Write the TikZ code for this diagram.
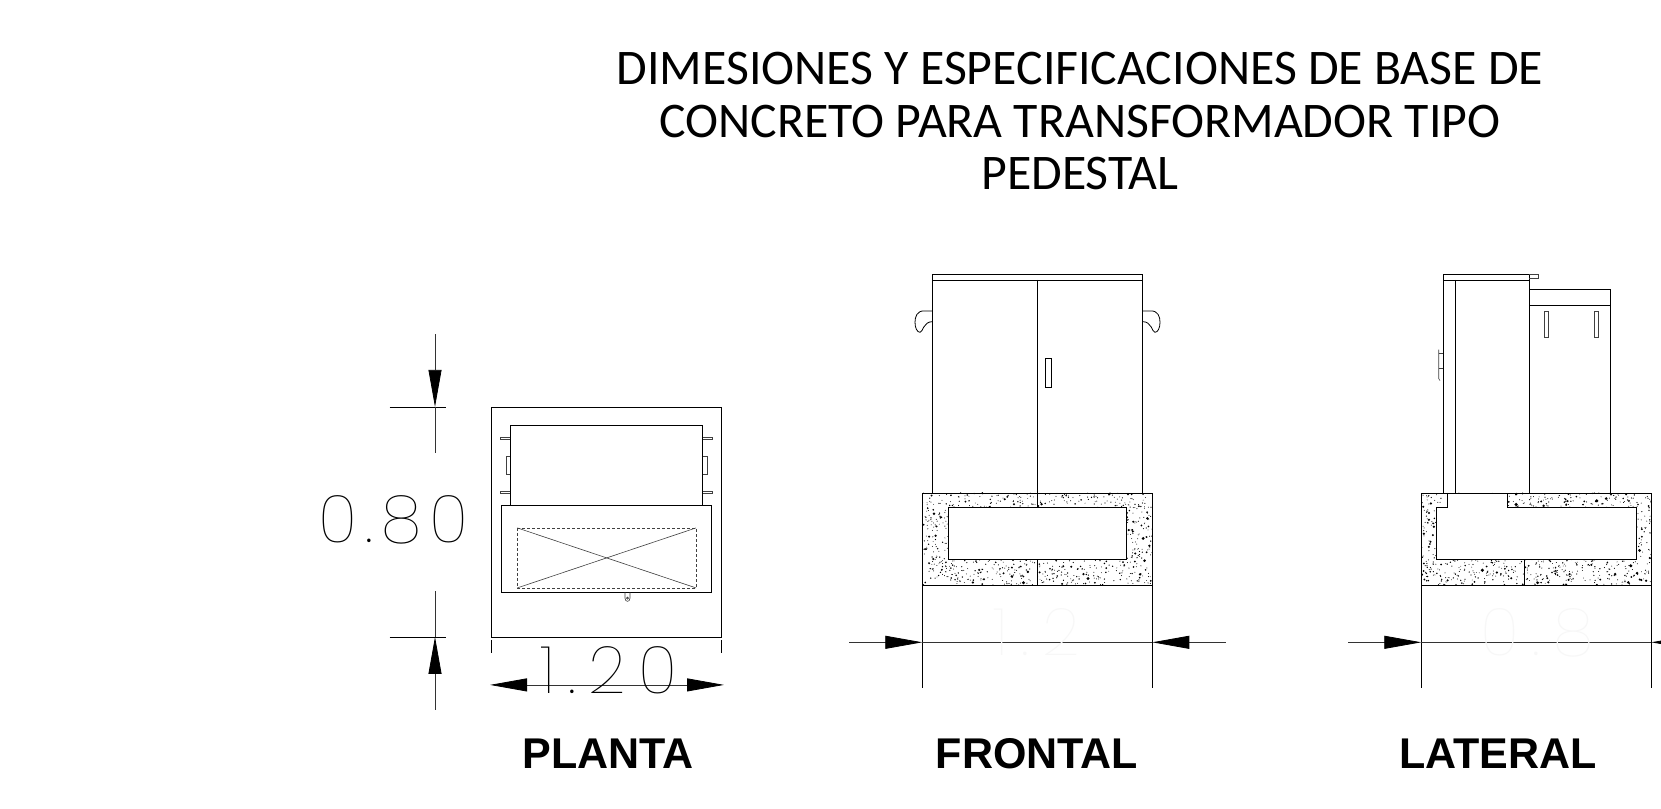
\documentclass[tikz,border=0pt]{standalone}
\usepackage{fontspec}
\setmainfont{Carlito}
\newfontfamily\labelfont{Liberation Sans}
\newfontfamily\cadfont[LetterSpace=12]{Poppins Thin}
\usetikzlibrary{arrows.meta}
\usetikzlibrary{positioning}

\tikzset{
  cad/.style={black, line width=0.8},
  thincad/.style={black!75, line width=0.6},
  dimline/.style={black!80, line width=0.8},
  dimtip/.style={-{Triangle[length=37,width=13,color=black]}},
  dimtext/.style={anchor=base, inner sep=0, font=\cadfont\fontsize{66}{66}\selectfont},
  viewname/.style={anchor=base, inner sep=0, font=\labelfont\bfseries\fontsize{43}{43}\selectfont},
}

% random dots for the concrete
\newcommand{\concretedots}[5]{
  \pgfmathsetseed{#5}
  \foreach \k in {1,...,1200}{
    \pgfmathsetmacro{\dotx}{#1+rnd*#3}
    \pgfmathsetmacro{\doty}{#2+rnd*#4}
    \pgfmathsetmacro{\dotr}{0.45+1.5*rnd*rnd*rnd}
    \fill[black] (\dotx,\doty) circle (\dotr);
  }
}

\begin{document}
\begin{tikzpicture}[x=1pt,y=-1pt]
\useasboundingbox (0,0) rectangle (1661,808);
\fill[white] (0,0) rectangle (1661,808);

\node[align=center, inner sep=0, anchor=base, font=\fontsize{49.8}{52.5}\selectfont] (title) at (1080,189.6)
  {DIMESIONES Y ESPECIFICACIONES DE BASE DE\\CONCRETO PARA TRANSFORMADOR TIPO\\PEDESTAL};

\begin{scope}[yshift=-0.6pt]
%planta
\draw[cad] (491.7,406.3) rectangle (721.7,636.3);
\draw[cad] (510.3,504.3) -- (510.3,424.7) -- (702.7,424.7) -- (702.7,504.3);
\draw[cad] (501.7,504.3) rectangle (711.7,591.7);
\draw[thincad, densely dashed] (517.3,527.3) rectangle (696,587.3);
\draw[thincad] (517.3,527.3) -- (696,587.3);
\draw[thincad] (517.3,587.3) -- (696,527.3);
\foreach \y in {437.3,491.3}{
  \draw[thincad] (510.3,\y-1) -- (500.7,\y-1) -- (500.7,\y+1) -- (510.3,\y+1);
  \draw[thincad] (702.7,\y-1) -- (712.7,\y-1) -- (712.7,\y+1) -- (702.7,\y+1);
}
\draw[thincad] (510.3,456) -- (506,456) -- (506,473.3) -- (510.3,473.3);
\draw[thincad] (702.7,456) -- (707.3,456) -- (707.3,473.3) -- (702.7,473.3);
\draw[thincad] (625,591.7) -- (625,597.5) .. controls (625,601.8) and (630,601.8) .. (630,597.5) -- (630,591.7);
\draw[thincad] (627.5,597.5) circle (1);

\coordinate (planleft) at (491.7,684.3);
\coordinate (planright) at (721.7,684.3);
\coordinate (planlinea) at (528,684.3);
\coordinate (planlineb) at (685,684.3);
\draw[cad] (491.7,639.3) -- (491.7,652.3);
\draw[cad] (721.7,639.3) -- (721.7,652.3);
\draw[dimline] (planlinea) -- (planlineb);
\draw[dimline, dimtip] (planlinea) -- (490,684.3);
\draw[dimline, dimtip] (planlineb) -- (724,684.3);
\node[dimtext] (planwidth) at (609,692.7) {\addfontfeature{LetterSpace=19}1.20};

\coordinate (heighttop) at (435,406.3);
\coordinate (heightlow) at (435,636.3);
\draw[cad] (389.7,406.3) -- (445.7,406.3);
\draw[cad] (389.7,636.3) -- (445.7,636.3);
\draw[dimline, dimtip] (435,333.8) -- (heighttop);
\draw[dimline] (heighttop) -- (435,452.3);
\draw[dimline, dimtip] (435,709.3) -- (heightlow);
\draw[dimline] (heightlow) -- (435,590);
\node[dimtext] (planheight) at (393.5,541.7) {0.80};
\node[viewname] (planta) at (608,768) {PLANTA};

%frontal
\begin{scope}
\clip (922.3,492.3) rectangle (1152.3,584.3);
\concretedots{922.3}{492.3}{230}{92}{11}
\end{scope}
\fill[white] (948.7,506.3) rectangle (1126.3,558.7);
\draw[cad] (922.3,492.3) rectangle (1152.3,584.3);
\draw[cad] (948.7,506.3) rectangle (1126.3,558.7);
\draw[cad] (1037.3,492.3) -- (1037.3,506.3);
\draw[cad] (1037.3,558.7) -- (1037.3,584.3);
\draw[cad] (932.7,492.3) -- (932.7,273.3) -- (1142.3,273.3) -- (1142.3,492.3);
\draw[cad] (932.7,279.3) -- (1142.3,279.3);
\draw[cad] (1037.3,279.3) -- (1037.3,492.3);
\draw[cad] (1045.7,357.3) rectangle (1051.7,386.7);
\draw[cad] (932.7,310.3) -- (924,310.3) .. controls (917,310.3) and (915,316) .. (915,321.7)
  .. controls (915,327) and (917,331.7) .. (920,331.7) .. controls (923,331.7) and (923,321) .. (932.7,321);
\draw[cad] (1142.3,310.3) -- (1151,310.3) .. controls (1158,310.3) and (1160,316) .. (1160,321.7)
  .. controls (1160,327) and (1158,331.7) .. (1155,331.7) .. controls (1152,331.7) and (1152,321) .. (1142.3,321);

\coordinate (frontleft) at (922.3,641.7);
\coordinate (frontright) at (1152.3,641.7);
\draw[cad] (922.3,584.3) -- (922.3,687.3);
\draw[cad] (1152.3,584.3) -- (1152.3,687.3);
\draw[dimline] (frontleft) -- (frontright);
\draw[dimline, dimtip] (849.3,641.7) -- (frontleft);
\draw[dimline, dimtip] (1225.7,641.7) -- (frontright);
\node[dimtext, text=black!3] (frontwidth) at (1037,655) {\addfontfeature{LetterSpace=20}1.2};
\node[viewname] (frontal) at (1037,768) {FRONTAL};

%lateral
\begin{scope}
\clip (1421.3,492.3) rectangle (1651.3,584.3);
\concretedots{1421.3}{492.3}{230}{92}{23}
\end{scope}
\fill[white] (1447.3,491.8) -- (1447.3,506.3) -- (1436,506.3) -- (1436,558.7) -- (1636.7,558.7)
  -- (1636.7,506.3) -- (1507.3,506.3) -- (1507.3,491.8) -- cycle;
\draw[cad] (1421.3,492.3) rectangle (1651.3,584.3);
\draw[cad] (1447.3,492.3) -- (1447.3,506.3) -- (1436,506.3) -- (1436,558.7) -- (1636.7,558.7)
  -- (1636.7,506.3) -- (1507.3,506.3) -- (1507.3,492.3);
\draw[cad] (1524.3,558.7) -- (1524.3,584.3);
\draw[cad] (1443,492.3) -- (1443,273.3) -- (1529.3,273.3) -- (1529.3,492.3);
\draw[cad] (1443,279.3) -- (1529.3,279.3);
\draw[cad] (1455.7,279.3) -- (1455.7,492.3);
\draw[thincad] (1529.3,274) -- (1538.7,274) -- (1538.7,277.3) -- (1529.3,277.3);
\draw[cad] (1529.7,288.7) -- (1610,288.7) -- (1610,492.3);
\draw[cad] (1529.7,304.3) -- (1610,304.3);
\draw[thincad] (1544.7,310.3) rectangle (1548.3,336.3);
\draw[thincad] (1594.3,310.3) rectangle (1598,336.3);
\draw[thincad] (1438.7,349) -- (1438.7,378) -- (1440,380);
\draw[thincad] (1438.7,353) -- (1443,353);
\draw[thincad] (1438.7,367.3) -- (1443,367.3);

\coordinate (sideleft) at (1421.3,641.7);
\coordinate (sideright) at (1651.3,641.7);
\draw[cad] (1421.3,584.3) -- (1421.3,687.3);
\draw[cad] (1651.3,584.3) -- (1651.3,687.3);
\draw[dimline] (sideleft) -- (sideright);
\draw[dimline, dimtip] (1348.3,641.7) -- (sideleft);
\draw[dimline, dimtip] (1724.3,641.7) -- (sideright);
\node[dimtext, text=black!3] (sidewidth) at (1537,655) {\addfontfeature{LetterSpace=20}0.8};
\node[viewname] (lateral) at (1498,768) {LATERAL};
\end{scope}
\end{tikzpicture}
\end{document}
